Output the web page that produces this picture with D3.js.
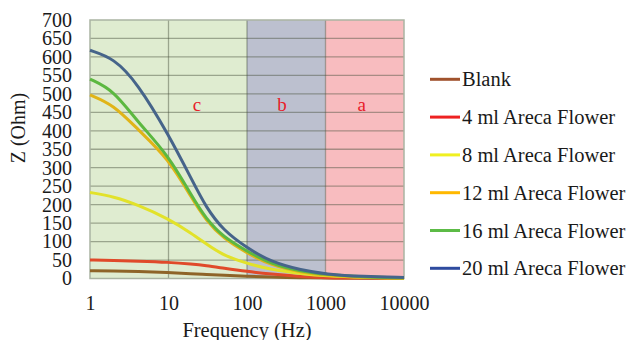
<!DOCTYPE html>
<html>
<head>
<meta charset="utf-8">
<script src="https://cdn.jsdelivr.net/npm/d3@7"></script>
<style>
  body { margin: 0; background: #fff; }
  svg text { font-family: "Liberation Serif", "Times New Roman", "DejaVu Serif", serif !important; }
</style>
</head>
<body>
<script>
  // frequencies (Hz) and impedance (Ohm)
  const freq = [1, 2, 4, 10, 20, 30, 50, 100, 200, 500, 1000, 3000, 10000];
  const blank  = [21, 20, 19, 16, 13, 11, 9, 6, 4, 2, 1, 0.5, 0.5];
  const ml4    = [50, 49, 47, 44, 39, 35, 28, 19, 12, 5, 2, 1, 1];
  const ml8    = [233, 222, 200, 162, 121, 94, 62, 41, 24, 13, 7, 3, 1];
  const ml12   = [497, 470, 405, 325, 215, 158, 108, 69, 36, 16, 9, 3, 1];
  const ml16   = [540, 510, 425, 334, 221, 162, 112, 74, 39, 19, 11, 4, 2];
  const ml20   = [618, 597, 530, 390, 266, 193, 130, 83, 45, 22, 12, 5, 3];

  const seriesNames = ["Blank", "4 ml Areca Flower", "8 ml Areca Flower",
                       "12 ml Areca Flower", "16 ml Areca Flower", "20 ml Areca Flower"];
  const seriesValues = [blank, ml4, ml8, ml12, ml16, ml20];
  const lineColors   = ["#8e6428", "#e04a2a", "#e2e22a", "#e0b418", "#5cb840", "#46648a"];
  const legendColors = ["#a0522d", "#ee2222", "#f0f020", "#ffb800", "#5cbb46", "#2f4b9f"];

  const xTicks = [1, 10, 100, 1000, 10000];
  const yTicks = d3.range(0, 701, 50);

  // frequency bands a / b / c
  const bands = [
    { from: 1, to: 100, fill: "#dfecd0", label: "c", at: 23 },
    { from: 100, to: 1000, fill: "#bcc0cf", label: "b", at: 280 },
    { from: 1000, to: 10000, fill: "#f8bcbf", label: "a", at: 2900 }
  ];

  const serif = "'Liberation Serif', 'Times New Roman', 'DejaVu Serif', serif";
  const w = 632, h = 340;
  const x = d3.scaleLog().domain([1, 10000]).range([90, 404]);
  const y = d3.scaleLinear().domain([0, 700]).range([278.5, 20]);

  const svg = d3.select("body").append("svg")
    .attr("width", w).attr("height", h)
    .attr("font-family", serif);

  svg.selectAll("rect.band")
    .data(bands)
    .enter().append("rect")
    .attr("class", "band")
    .attr("x", d => x(d.from))
    .attr("y", y(700))
    .attr("width", d => x(d.to) - x(d.from))
    .attr("height", y(0) - y(700))
    .attr("fill", d => d.fill);

  // grid
  svg.selectAll("line.hgrid")
    .data(yTicks.filter(v => v > 0 && v < 700))
    .enter().append("line")
    .attr("x1", x(1)).attr("x2", x(10000))
    .attr("y1", d => y(d)).attr("y2", d => y(d))
    .attr("stroke", "rgba(70,80,60,0.45)")
    .attr("stroke-width", 1.3);

  svg.selectAll("line.vgrid")
    .data([10, 100, 1000])
    .enter().append("line")
    .attr("x1", d => x(d)).attr("x2", d => x(d))
    .attr("y1", y(700)).attr("y2", y(0))
    .attr("stroke", "rgba(70,80,60,0.45)")
    .attr("stroke-width", 1.3);

  svg.append("rect")
    .attr("x", x(1)).attr("y", y(700))
    .attr("width", x(10000) - x(1)).attr("height", y(0) - y(700))
    .attr("fill", "none")
    .attr("stroke", "#aab4a2")
    .attr("stroke-width", 1.5);

  svg.selectAll("text.band")
    .data(bands)
    .enter().append("text")
    .attr("x", d => x(d.at))
    .attr("y", 111)
    .attr("text-anchor", "middle")
    .attr("font-size", 19)
    .attr("fill", "#e8202a")
    .text(d => d.label);

  // curves
  const line = d3.line()
    .x((d, i) => x(freq[i]))
    .y(d => y(d))
    .curve(d3.curveBasis);

  svg.selectAll("path.curve")
    .data(seriesValues)
    .enter().append("path")
    .attr("d", line)
    .attr("fill", "none")
    .attr("stroke", (d, i) => lineColors[i])
    .attr("stroke-width", 3);

  // axes
  const yAxis = svg.append("g")
    .attr("transform", `translate(${x(1)},0)`)
    .call(d3.axisLeft(y).tickValues(yTicks).tickSize(0).tickPadding(18));
  yAxis.attr("font-family", serif).attr("font-size", 20);
  yAxis.select(".domain").remove();
  yAxis.selectAll("text").attr("fill", "#1a1a1a");

  const xAxis = svg.append("g")
    .attr("transform", `translate(0,${y(0)})`)
    .call(d3.axisBottom(x).tickValues(xTicks).tickFormat(d3.format("d")).tickSize(0).tickPadding(17));
  xAxis.attr("font-family", serif).attr("font-size", 20);
  xAxis.select(".domain").remove();
  xAxis.selectAll("text").attr("fill", "#1a1a1a");

  svg.append("text")
    .attr("x", 247).attr("y", 337)
    .attr("text-anchor", "middle")
    .attr("font-size", 20.5)
    .attr("fill", "#1a1a1a")
    .text("Frequency (Hz)");

  svg.append("text")
    .attr("transform", "translate(25,128) rotate(-90)")
    .attr("text-anchor", "middle")
    .attr("font-size", 20)
    .attr("fill", "#1a1a1a")
    .text("Z (Ohm)");

  // legend
  const legend = svg.selectAll("g.legend")
    .data(seriesNames)
    .enter().append("g")
    .attr("transform", (d, i) => `translate(430,${79.3 + i * 37.8})`);

  legend.append("line")
    .attr("x1", 0).attr("x2", 30)
    .attr("stroke", (d, i) => legendColors[i])
    .attr("stroke-width", 3);

  legend.append("text")
    .attr("x", 32).attr("y", 7)
    .attr("font-size", 20.5)
    .attr("fill", "#1a1a1a")
    .text(d => d);
</script>
</body>
</html>
